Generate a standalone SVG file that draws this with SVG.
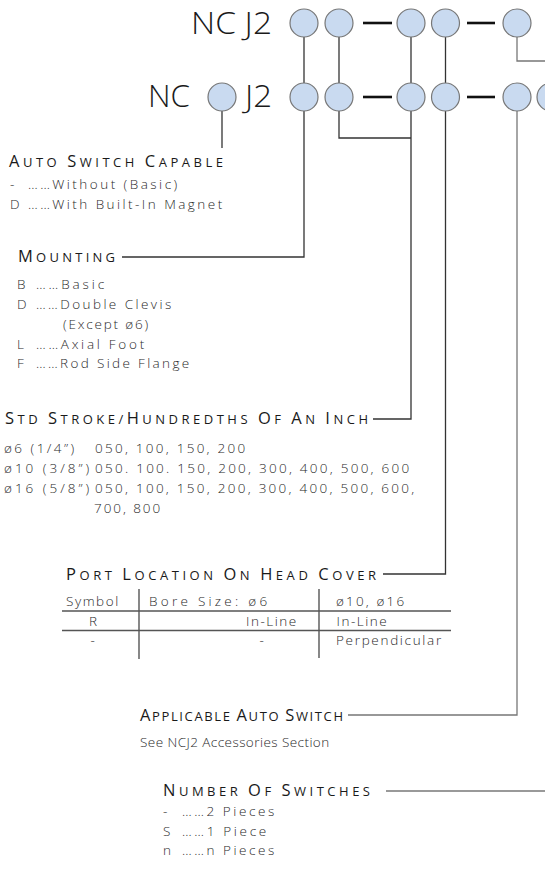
<svg xmlns="http://www.w3.org/2000/svg" width="545" height="870" viewBox="0 0 545 870">
<style>
  text { font-family: "Open Sans", "Noto Sans", "Liberation Sans", sans-serif; fill: #222; font-weight: 300; }
  .title { font-size: 31px; fill: #1a1a1a; }
  .head { font-size: 13px; letter-spacing: 2px; font-weight: 400; fill: #1a1a1a; }
  .big { font-size: 16.5px; }
  .body { font-size: 13.5px; letter-spacing: 0.8px; fill: #2a2a2a; }
  .dot { fill: #c9daf0; stroke: #777; stroke-width: 1.2; }
  .dash { stroke: #111; stroke-width: 2.6; }
  .ln { fill: none; stroke: #333; stroke-width: 1.3; }
  .lg { fill: none; stroke: #777; stroke-width: 1.3; }
  .tl { stroke: #555; stroke-width: 1.4; }
</style>
<rect width="545" height="870" fill="#fff"/>

<g id="connectors">
  <line class="ln" x1="304" y1="37" x2="304" y2="83"/>
  <line class="ln" x1="339" y1="37" x2="339" y2="83"/>
  <line class="ln" x1="411" y1="37" x2="411" y2="83"/>
  <line class="ln" x1="445.5" y1="37" x2="445.5" y2="83"/>
  <polyline class="lg" points="517,37 517,61 545,61"/>
  <line class="ln" x1="222" y1="111" x2="222" y2="148"/>
  <polyline class="ln" points="304,111 304,257 122,257"/>
  <polyline class="ln" points="339,111 339,138 411,138"/>
  <polyline class="ln" points="411,111 411,419 373,419"/>
  <polyline class="ln" points="445.5,111 445.5,574 383,574"/>
  <polyline class="lg" points="517,111 517,715 348,715"/>
  <line class="lg" x1="386" y1="791" x2="545" y2="791"/>
  <line class="dash" x1="363" y1="23" x2="392" y2="23"/>
  <line class="dash" x1="467" y1="23" x2="495" y2="23"/>
  <line class="dash" x1="363" y1="97" x2="392" y2="97"/>
  <line class="dash" x1="467" y1="97" x2="495" y2="97"/>
</g>

<g id="row1">
  <text class="title" x="191" y="34" textLength="81" lengthAdjust="spacingAndGlyphs">NC J2</text>
  <circle class="dot" cx="304" cy="23" r="14"/>
  <circle class="dot" cx="339" cy="23" r="14"/>
  <circle class="dot" cx="411" cy="23" r="14"/>
  <circle class="dot" cx="445.5" cy="23" r="14"/>
  <circle class="dot" cx="517" cy="23" r="14"/>
</g>

<g id="row2">
  <text class="title" x="148" y="107" textLength="42" lengthAdjust="spacingAndGlyphs">NC</text>
  <circle class="dot" cx="222" cy="97" r="14"/>
  <text class="title" x="245" y="107" textLength="27" lengthAdjust="spacingAndGlyphs">J2</text>
  <circle class="dot" cx="304" cy="97" r="14"/>
  <circle class="dot" cx="339" cy="97" r="14"/>
  <circle class="dot" cx="411" cy="97" r="14"/>
  <circle class="dot" cx="445.5" cy="97" r="14"/>
  <circle class="dot" cx="517" cy="97" r="14"/>
  <circle class="dot" cx="551" cy="97" r="14"/>
</g>

<g id="auto-switch-capable">
  <text class="head" x="9" y="167" textLength="216" lengthAdjust="spacing"><tspan class="big">A</tspan>UTO <tspan class="big">S</tspan>WITCH <tspan class="big">C</tspan>APABLE</text>
  <text class="body" x="10" y="189">-</text>
  <text class="body" x="28" y="189" textLength="150" lengthAdjust="spacing">……Without (Basic)</text>
  <text class="body" x="10" y="209">D</text>
  <text class="body" x="28" y="209" textLength="195" lengthAdjust="spacing">……With Built-In Magnet</text>
</g>

<g id="mounting">
  <text class="head" x="18" y="262" textLength="99" lengthAdjust="spacing"><tspan class="big">M</tspan>OUNTING</text>
  <text class="body" x="17" y="289">B</text>
  <text class="body" x="36" y="289" textLength="69" lengthAdjust="spacing">……Basic</text>
  <text class="body" x="17" y="309">D</text>
  <text class="body" x="36" y="309" textLength="136" lengthAdjust="spacing">……Double Clevis</text>
  <text class="body" x="63" y="329" textLength="86" lengthAdjust="spacing">(Except ø6)</text>
  <text class="body" x="17" y="349">L</text>
  <text class="body" x="36" y="349" textLength="109" lengthAdjust="spacing">……Axial Foot</text>
  <text class="body" x="17" y="368">F</text>
  <text class="body" x="36" y="368" textLength="154" lengthAdjust="spacing">……Rod Side Flange</text>
</g>

<g id="std-stroke">
  <text class="head" x="5" y="424" textLength="365" lengthAdjust="spacing"><tspan class="big">S</tspan>TD <tspan class="big">S</tspan>TROKE/<tspan class="big">H</tspan>UNDREDTHS <tspan class="big">O</tspan>F <tspan class="big">A</tspan>N <tspan class="big">I</tspan>NCH</text>
  <text class="body" x="4" y="453" textLength="71" lengthAdjust="spacing">ø6 (1/4”)</text>
  <text class="body" x="95" y="453" textLength="151" lengthAdjust="spacing">050, 100, 150, 200</text>
  <text class="body" x="4" y="473" textLength="86" lengthAdjust="spacing">ø10 (3/8”)</text>
  <text class="body" x="95" y="473" textLength="315" lengthAdjust="spacing">050. 100. 150, 200, 300, 400, 500, 600</text>
  <text class="body" x="4" y="493" textLength="86" lengthAdjust="spacing">ø16 (5/8”)</text>
  <text class="body" x="95" y="493" textLength="320" lengthAdjust="spacing">050, 100, 150, 200, 300, 400, 500, 600,</text>
  <text class="body" x="94" y="513" textLength="67" lengthAdjust="spacing">700, 800</text>
</g>

<g id="port-location">
  <text class="head" x="66" y="580" textLength="312" lengthAdjust="spacing"><tspan class="big">P</tspan>ORT <tspan class="big">L</tspan>OCATION <tspan class="big">O</tspan>N <tspan class="big">H</tspan>EAD <tspan class="big">C</tspan>OVER</text>
  <line class="tl" x1="62" y1="611" x2="451" y2="611"/>
  <line class="tl" x1="62" y1="630.5" x2="451" y2="630.5"/>
  <line class="tl" x1="139" y1="589" x2="139" y2="659"/>
  <line class="tl" x1="319" y1="589" x2="319" y2="658"/>
  <text class="body" x="66" y="606" textLength="53" lengthAdjust="spacing">Symbol</text>
  <text class="body" x="149" y="606" textLength="119" lengthAdjust="spacing">Bore Size:  ø6</text>
  <text class="body" x="336" y="606" textLength="69" lengthAdjust="spacing">ø10, ø16</text>
  <text class="body" x="93.5" y="626" text-anchor="middle">R</text>
  <text class="body" x="246" y="626" textLength="51" lengthAdjust="spacing">In-Line</text>
  <text class="body" x="336.5" y="626" textLength="51" lengthAdjust="spacing">In-Line</text>
  <text class="body" x="93" y="645" text-anchor="middle">-</text>
  <text class="body" x="262" y="645" text-anchor="middle">-</text>
  <text class="body" x="336" y="645" textLength="106" lengthAdjust="spacing">Perpendicular</text>
</g>

<g id="applicable-auto-switch">
  <text class="head" x="140" y="721" textLength="205" lengthAdjust="spacing"><tspan class="big">A</tspan>PPLICABLE <tspan class="big">A</tspan>UTO <tspan class="big">S</tspan>WITCH</text>
  <text class="body" x="140" y="747" textLength="190" lengthAdjust="spacing">See NCJ2 Accessories Section</text>
</g>

<g id="number-of-switches">
  <text class="head" x="163" y="796" textLength="209" lengthAdjust="spacing"><tspan class="big">N</tspan>UMBER <tspan class="big">O</tspan>F <tspan class="big">S</tspan>WITCHES</text>
  <text class="body" x="163" y="816">-</text>
  <text class="body" x="182" y="816" textLength="93" lengthAdjust="spacing">……2 Pieces</text>
  <text class="body" x="163" y="836">S</text>
  <text class="body" x="182" y="836" textLength="85" lengthAdjust="spacing">……1 Piece</text>
  <text class="body" x="163" y="855">n</text>
  <text class="body" x="182" y="855" textLength="93" lengthAdjust="spacing">……n Pieces</text>
</g>
</svg>
